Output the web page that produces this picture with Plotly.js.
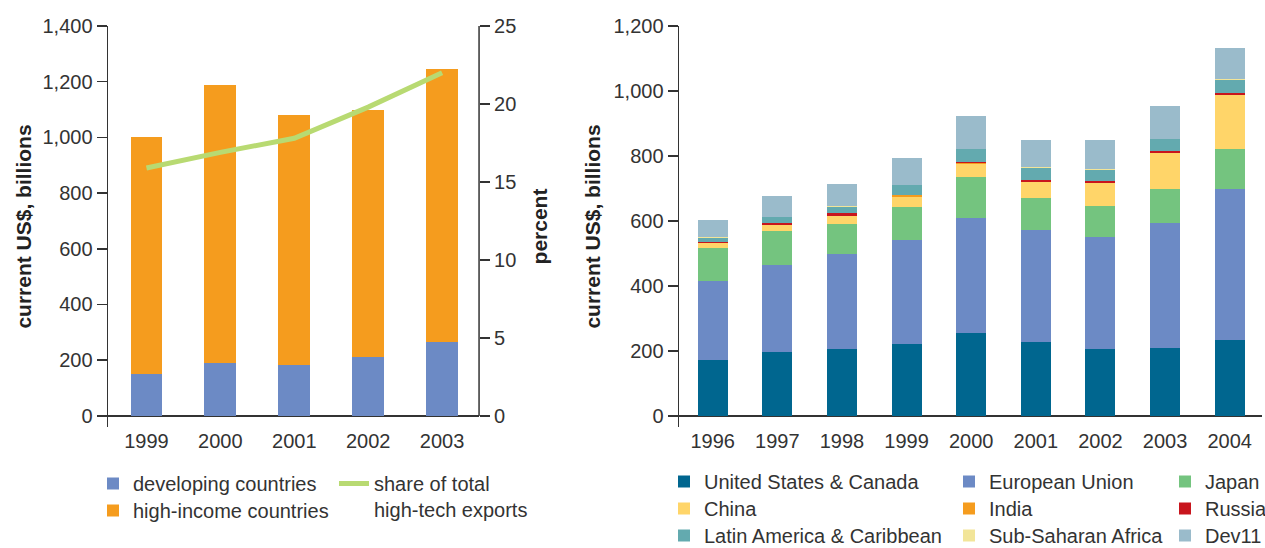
<!DOCTYPE html>
<html>
<head>
<meta charset="utf-8">
<script src="https://cdn.plot.ly/plotly-3.0.1.min.js"></script>
<style>html,body{margin:0;padding:0;background:#fff;}#chart{width:1265px;height:548px;}</style>
</head>
<body>
<div id="chart"></div>
<script>
// ---- Left chart data ----
var yearsLeft = ['1999', '2000', '2001', '2002', '2003'];
var developing = [151, 190, 183, 212, 266];
var highIncome = [851, 998, 898, 886, 980];
var sharePct = [15.9, 16.9, 17.8, 19.8, 22.0];

// ---- Right chart data ----
var yearsRight = ['1996', '1997', '1998', '1999', '2000', '2001', '2002', '2003', '2004'];
var usCanada = [172, 197, 206, 221, 256, 228, 206, 209, 234];
var eu       = [243, 268, 292, 321, 353, 344, 345, 385, 464];
var japan    = [102, 104, 93, 101, 126, 99, 95, 104, 124];
var china    = [15, 19, 24, 32, 41, 49, 71, 111, 166];
var india    = [1, 1, 1, 4, 2, 1, 1, 1, 1];
var russia   = [3, 4, 7, 0.5, 3, 6, 6, 6, 4];
var latinAm  = [13, 20, 21, 32, 40, 37, 34, 37, 42];
var ssAfrica = [2, 0.5, 3, 0.5, 0.5, 3, 0.5, 0.5, 0.5];
var dev11    = [53, 62, 68, 83, 102, 83, 92, 99, 98];

var leftTicks = [0, 200, 400, 600, 800, 1000, 1200, 1400];
var pctTicks = [0, 5, 10, 15, 20, 25];
var rightTicks = [0, 200, 400, 600, 800, 1000, 1200];

var FONT = 'Liberation Sans, Arial, sans-serif';
var TXT = '#333333';
var FS = 20;

var traces = [
  {type: 'bar', x: yearsLeft, y: developing, name: 'developing countries', marker: {color: '#6C8AC5'}, width: 0.43, xaxis: 'x', yaxis: 'y', legend: 'legend'},
  {type: 'bar', x: yearsLeft, y: highIncome, name: 'high-income countries', marker: {color: '#F59C1E'}, width: 0.43, xaxis: 'x', yaxis: 'y', legend: 'legend2'},
  {type: 'scatter', mode: 'lines', x: yearsLeft, y: sharePct, name: 'share of total<br>high-tech exports', line: {color: '#B8DA72', width: 5}, xaxis: 'x', yaxis: 'y2', legend: 'legend3'},

  {type: 'bar', x: yearsRight, y: usCanada, name: 'United States & Canada', marker: {color: '#00668F'}, width: 0.465, xaxis: 'x2', yaxis: 'y3', legend: 'legend4'},
  {type: 'bar', x: yearsRight, y: eu, name: 'European Union', marker: {color: '#6C8AC5'}, width: 0.465, xaxis: 'x2', yaxis: 'y3', legend: 'legend5'},
  {type: 'bar', x: yearsRight, y: japan, name: 'Japan', marker: {color: '#74C47F'}, width: 0.465, xaxis: 'x2', yaxis: 'y3', legend: 'legend6'},
  {type: 'bar', x: yearsRight, y: china, name: 'China', marker: {color: '#FFD569'}, width: 0.465, xaxis: 'x2', yaxis: 'y3', legend: 'legend7'},
  {type: 'bar', x: yearsRight, y: india, name: 'India', marker: {color: '#F59C1E'}, width: 0.465, xaxis: 'x2', yaxis: 'y3', legend: 'legend8'},
  {type: 'bar', x: yearsRight, y: russia, name: 'Russia', marker: {color: '#C8151D'}, width: 0.465, xaxis: 'x2', yaxis: 'y3', legend: 'legend9'},
  {type: 'bar', x: yearsRight, y: latinAm, name: 'Latin America & Caribbean', marker: {color: '#63AAAF'}, width: 0.465, xaxis: 'x2', yaxis: 'y3', legend: 'legend10'},
  {type: 'bar', x: yearsRight, y: ssAfrica, name: 'Sub-Saharan Africa', marker: {color: '#F2E599'}, width: 0.465, xaxis: 'x2', yaxis: 'y3', legend: 'legend11'},
  {type: 'bar', x: yearsRight, y: dev11, name: 'Dev11', marker: {color: '#9ABBCB'}, width: 0.465, xaxis: 'x2', yaxis: 'y3', legend: 'legend12'}
];

var yDom = [0.2208, 0.9526];
var W = 1265, H = 548;
var legFont = {family: FONT, size: FS, color: TXT};
// legend placed so that its symbol centre sits at pixel (cx, cy)
function leg(cx, cy, extra) {
  var o = {x: (cx - 20) / W, y: (H - (cy - 19)) / H, xanchor: 'left', yanchor: 'top', orientation: 'v',
           bgcolor: 'rgba(0,0,0,0)', font: legFont, itemclick: false};
  if (extra) for (var k in extra) o[k] = extra[k];
  return o;
}

var layout = {
  width: W, height: H,
  margin: {l: 0, r: 0, t: 0, b: 0, autoexpand: false},
  paper_bgcolor: '#fff', plot_bgcolor: 'rgba(0,0,0,0)',
  barmode: 'stack', bargap: 0,
  font: {family: FONT, size: FS, color: TXT},
  xaxis: {domain: [0.0854, 0.3787], anchor: 'y', type: 'category', range: [-0.52, 4.5],
          showline: false, ticks: '', showgrid: false, zeroline: false, tickfont: {size: FS, color: TXT}},
  yaxis: {domain: yDom, anchor: 'x', range: [-40, 1400], tickvals: leftTicks, tickformat: ',',
          showline: true, linecolor: '#333', linewidth: 1.5, ticks: 'outside', ticklen: 10, tickcolor: '#333', tickwidth: 1.5,
          showgrid: false, zeroline: true, zerolinecolor: '#333', zerolinewidth: 1.5,
          tickfont: {size: FS, color: TXT},
          title: {text: 'current US$, billions', font: {size: 21, color: '#222', weight: 'bold'}, standoff: 5}},
  yaxis2: {overlaying: 'y', anchor: 'x', side: 'right', range: [-0.705, 25], tickvals: pctTicks,
           showline: false, ticks: 'outside', ticklen: 10, tickcolor: '#333', tickwidth: 1.5,
           showgrid: false, zeroline: false, tickfont: {size: FS, color: TXT},
           title: {text: 'percent', font: {size: 21, color: '#222', weight: 'bold'}, standoff: 16}},
  xaxis2: {domain: [0.5368, 0.9976], anchor: 'y3', type: 'category', range: [-0.52, 8.5],
           showline: false, ticks: '', showgrid: false, zeroline: false, tickfont: {size: FS, color: TXT}},
  yaxis3: {domain: yDom, anchor: 'x2', range: [-34, 1200], tickvals: rightTicks, tickformat: ',',
           showline: true, linecolor: '#333', linewidth: 1.5, ticks: 'outside', ticklen: 10, tickcolor: '#333', tickwidth: 1.5,
           showgrid: false, zeroline: true, zerolinecolor: '#333', zerolinewidth: 1.5,
           tickfont: {size: FS, color: TXT},
           title: {text: 'current US$, billions', font: {size: 21, color: '#222', weight: 'bold'}, standoff: 7}},
  shapes: [
    {type: 'line', xref: 'x domain', yref: 'y2', x0: 1, x1: 1, y0: 0, y1: 25, line: {color: '#333', width: 1.5}}
  ],
  showlegend: true,
  legend:   leg(113, 483),
  legend2:  leg(113, 510),
  legend3:  leg(354, 483, {valign: 'top'}),
  legend4:  leg(684, 481),
  legend5:  leg(969, 481),
  legend6:  leg(1185, 481),
  legend7:  leg(684, 508),
  legend8:  leg(969, 508),
  legend9:  leg(1185, 508),
  legend10: leg(684, 535),
  legend11: leg(969, 535),
  legend12: leg(1185, 535)
};

Plotly.newPlot('chart', traces, layout, {staticPlot: true, displayModeBar: false});
</script>
</body>
</html>
